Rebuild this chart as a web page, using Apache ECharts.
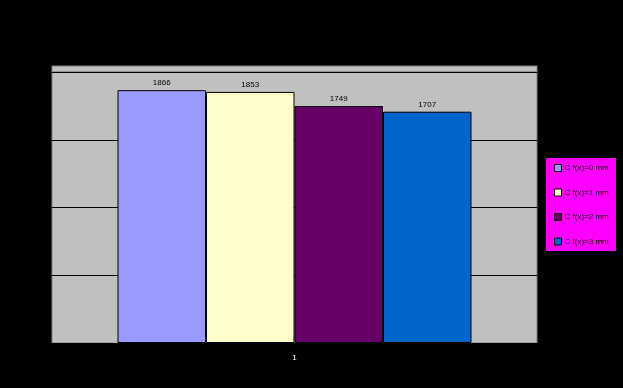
<!DOCTYPE html>
<html><head><meta charset="utf-8">
<script src="https://cdn.jsdelivr.net/npm/echarts@6/dist/echarts.min.js"></script>
<style>html,body{margin:0;padding:0;background:#000;}#c{width:623px;height:388px;}</style>
</head><body><div id="c"></div>
<script>
var categories = ['1'];
var seriesNames = ['C f(x)=0 mm', 'C f(x)=1 mm', 'C f(x)=2 mm', 'C f(x)=3 mm'];
var seriesValues = [[1866], [1853], [1749], [1707]];
var seriesColors = ['#9999FF', '#FFFFCC', '#660066', '#0066CC'];
var yTicks = [0, 500, 1000, 1500, 2000];

var chart = echarts.init(document.getElementById('c'));
var series = seriesNames.map(function (n, i) {
  return {
    name: n, type: 'bar', data: seriesValues[i], barWidth: 88.5, barGap: '0%',
    itemStyle: { color: seriesColors[i], borderColor: '#000', borderWidth: 1 },
    label: { show: true, position: 'top', distance: 3, color: '#000', fontSize: 8, fontFamily: 'Liberation Sans' }
  };
});
chart.setOption({
  backgroundColor: '#000',
  animation: false,
  grid: { left: 52, right: 86, top: 72, bottom: 45, show: true, backgroundColor: '#C0C0C0', borderColor: '#808080', borderWidth: 1 },
  graphic: [
    { type: 'rect', shape: { x: 52, y: 66, width: 485, height: 6 }, style: { fill: '#C0C0C0', stroke: '#808080', lineWidth: 1 }, z: -1 },
    { type: 'rect', shape: { x: 545.5, y: 157.5, width: 71, height: 94 }, style: { fill: '#FF00FF', stroke: '#000', lineWidth: 1 }, z: 0 }
  ],
  xAxis: {
    type: 'category', data: categories,
    axisLine: { show: true, lineStyle: { color: '#000' } },
    axisTick: { show: false },
    axisLabel: { color: '#fff', fontSize: 8, fontFamily: 'Liberation Sans', margin: 11 }
  },
  yAxis: {
    type: 'value', min: yTicks[0], max: yTicks[yTicks.length - 1], interval: 500,
    axisLine: { show: false }, axisTick: { show: false },
    axisLabel: { show: false },
    splitLine: { show: true, lineStyle: { color: '#000', width: 1 } }
  },
  legend: {
    data: seriesNames, orient: 'vertical', left: 549, top: 159, itemGap: 16.5,
    itemWidth: 7, itemHeight: 7, icon: 'rect', z: 10,
    textStyle: { color: '#000', fontSize: 8, fontFamily: 'Liberation Sans', padding: [0, 0, 0, -2] },
    itemStyle: { borderColor: '#000', borderWidth: 1 }
  },
  series: series
});
</script></body></html>
